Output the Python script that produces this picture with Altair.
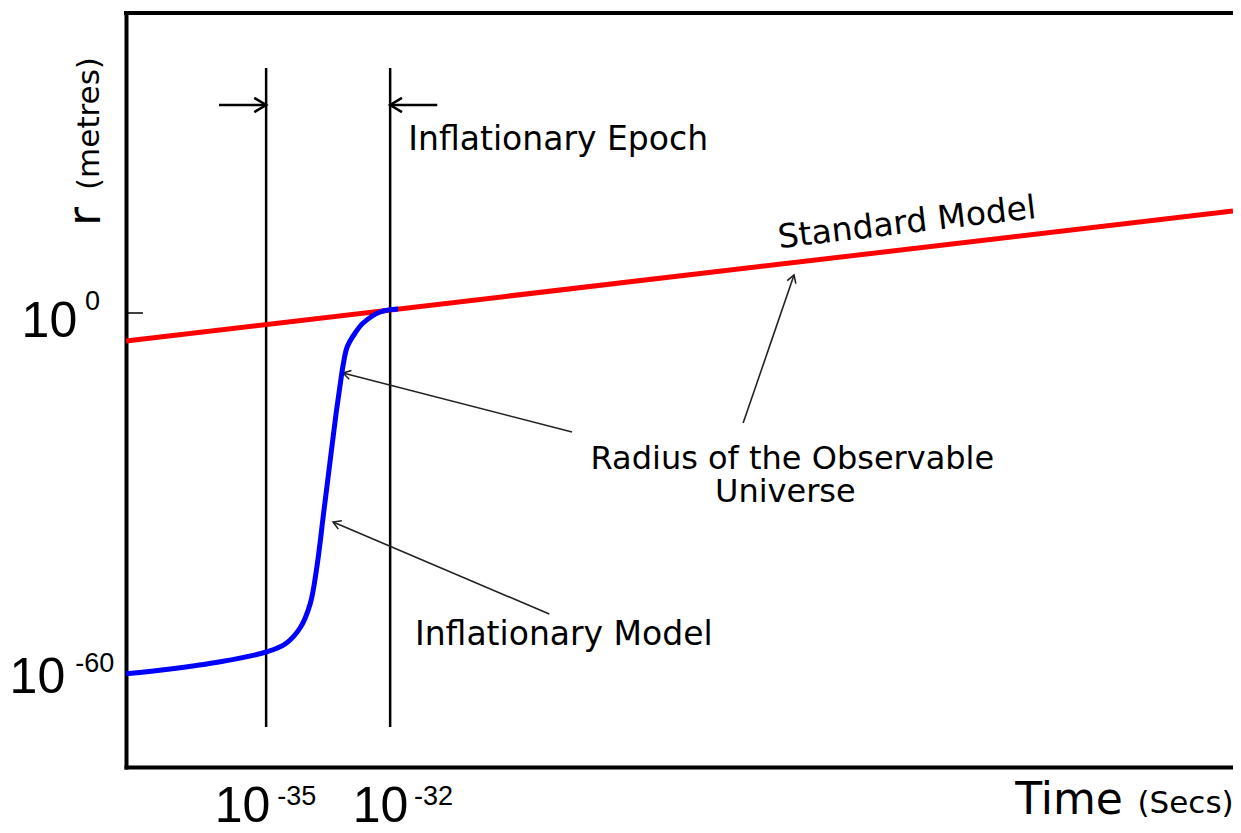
import math
import altair as alt
import pandas as pd

# ---------------- data (log10 units) ----------------
std_logt = [-38.39, -11.61]          # Standard Model line
std_logr = [-4.68, 17.05]

infl_logt = [-38.39, -37.32, -36.11, -35.0, -34.54, -34.18, -33.935, -33.766,
             -33.609, -33.452, -33.306, -33.21, -33.137, -33.04, -32.847, -32.653,
             -32.242, -31.807]
infl_logr = [-60.3, -59.5, -58.3, -56.66, -55.32, -52.65, -48.64, -42.12,
             -33.43, -24.74, -16.71, -12.03, -8.69, -5.68, -3.34, -1.67,
             0.17, 0.67]

epoch_logt = [-35, -32]              # inflationary epoch boundaries
epoch_top, epoch_bottom = 40.95, -69.19
epoch_arrow_r = 34.76
epoch_arrow_tail = [-36.14, -30.86]

y_ticks = [0, -60]
y_tick_end = -37.98

# annotation pointers: tail (t, r) -> head (t, r)
ptr_t1 = [-27.60, -28.15, -23.46]
ptr_r1 = [-19.89, -50.31, -18.39]
ptr_t2 = [-33.14, -33.38, -22.23]
ptr_r2 = [-10.03, -34.93, 6.35]

# text annotations
words = ["Inflationary Epoch", "Standard Model", "Radius of the Observable",
         "Universe", "Inflationary Model", "Time", "(Secs)", "r", "(metres)"]
words_t = [-31.56, -19.47, -22.27, -22.44, -31.40, -16.88, -13.92, -39.02, -39.04]
words_r = [27.24, 13.37, -26.07, -31.59, -55.49, -83.70, -83.55, 14.54, 20.56]
words_align = ["left", "center", "center", "center", "left", "left", "left", "left", "left"]
words_size = [33, 33, 32, 32, 33, 44, 31, 46, 31]
words_angle = [0, 353.3, 0, 0, 0, 0, 0, 270, 270]

# tick labels "10" + exponent
base_t = [-39.57, -39.86, -34.90, -31.56]
base_r = [-4.01, -63.51, -85.07, -85.07]
exp_text = ["0", "-60", "-35", "-32"]
exp_t = [-39.38, -39.62, -34.73, -31.42]
exp_r = [0.50, -60.0, -82.23, -82.23]

# ---------------- layout ----------------
X_DOMAIN = [-38.39, -11.61]
Y_DOMAIN = [-75.88, 50.14]
W, H = 1107, 754
kx = W / (X_DOMAIN[1] - X_DOMAIN[0])
ky = H / (Y_DOMAIN[1] - Y_DOMAIN[0])

xs = alt.Scale(domain=X_DOMAIN, nice=False, zero=False)
ys = alt.Scale(domain=Y_DOMAIN, nice=False, zero=False)
frame_axis = alt.Axis(domain=True, ticks=False, labels=False, grid=False, title=None)
X = lambda f: alt.X(f, type="quantitative", scale=xs, axis=frame_axis)
Y = lambda f: alt.Y(f, type="quantitative", scale=ys, axis=frame_axis)

# the reference shows no right border: mask the right edge of the view
right_mask = alt.Chart(pd.DataFrame({"t": [X_DOMAIN[1]], "r1": [Y_DOMAIN[0] + 0.4],
                                     "r2": [Y_DOMAIN[1] - 0.4]})).mark_rule(
    color="white", strokeWidth=8).encode(x=X("t"), y=Y("r1"), y2="r2:Q")

# top edge of the frame (left and bottom edges are the axis domains)
top_edge = alt.Chart(pd.DataFrame({"t1": [X_DOMAIN[0]], "t2": [X_DOMAIN[1]],
                                   "r": [Y_DOMAIN[1]]})).mark_rule(
    color="black", strokeWidth=4, strokeCap="square").encode(x=X("t1"), x2="t2:Q", y=Y("r"))

std_line = alt.Chart(pd.DataFrame({"t": std_logt, "r": std_logr})).mark_line(
    color="#ff0000", strokeWidth=5).encode(x=X("t"), y=Y("r"))

infl_line = alt.Chart(pd.DataFrame({"t": infl_logt, "r": infl_logr})).mark_line(
    color="#0000ff", strokeWidth=5, interpolate="catmull-rom").encode(
    x=X("t"), y=Y("r"), order="t:Q")

vlines = alt.Chart(pd.DataFrame({"t": epoch_logt, "r1": [epoch_top] * 2, "r2": [epoch_bottom] * 2})
                   ).mark_rule(color="black", strokeWidth=2.5).encode(
    x=X("t"), y=Y("r1"), y2="r2:Q")

shafts = alt.Chart(pd.DataFrame({"t1": epoch_arrow_tail, "t2": epoch_logt,
                                 "r": [epoch_arrow_r] * 2})).mark_rule(
    color="black", strokeWidth=2.5).encode(x=X("t1"), x2="t2:Q", y=Y("r"))

chevron = "M-1,-0.6L0,0L-1,0.6"
heads_top = alt.Chart(pd.DataFrame({"t": epoch_logt, "r": [epoch_arrow_r] * 2,
                                    "ang": [0, 180]})).mark_point(
    shape=chevron, filled=False, stroke="black", strokeWidth=2.5, size=560, opacity=1).encode(
    x=X("t"), y=Y("r"), angle=alt.Angle("ang:Q", scale=None))

ptr_df = pd.DataFrame({"t1": ptr_t1, "r1": ptr_r1, "t2": ptr_t2, "r2": ptr_r2})
ptr_df["ang"] = [
    (math.degrees(math.atan2(-(b2 - b1) * ky, (a2 - a1) * kx)) + 360) % 360
    for a1, b1, a2, b2 in zip(ptr_t1, ptr_r1, ptr_t2, ptr_r2)]
pointers = alt.Chart(ptr_df).mark_rule(color="#222222", strokeWidth=1.6).encode(
    x=X("t1"), y=Y("r1"), x2="t2:Q", y2="r2:Q")
ptr_heads = alt.Chart(ptr_df).mark_point(
    shape=chevron, filled=False, stroke="#222222", strokeWidth=1.6, size=230, opacity=1).encode(
    x=X("t2"), y=Y("r2"), angle=alt.Angle("ang:Q", scale=None))

yticks = alt.Chart(pd.DataFrame({"r": y_ticks, "t1": [X_DOMAIN[0]] * 2, "t2": [y_tick_end] * 2})
                   ).mark_rule(color="black", strokeWidth=1.5).encode(
    x=X("t1"), x2="t2:Q", y=Y("r"))

words_df = pd.DataFrame({"txt": words, "t": words_t, "r": words_r, "align": words_align,
                         "size": words_size, "ang": words_angle})
text_layers = []
for al in ["left", "center"]:
    sub = words_df[words_df["align"] == al]
    text_layers.append(alt.Chart(sub).mark_text(
        align=al, baseline="alphabetic", font="DejaVu Sans", color="black").encode(
        x=X("t"), y=Y("r"), text="txt:N",
        size=alt.Size("size:Q", scale=None),
        angle=alt.Angle("ang:Q", scale=None)))

base_labels = alt.Chart(pd.DataFrame({"t": base_t, "r": base_r, "txt": ["10"] * 4})).mark_text(
    align="right", baseline="alphabetic", font="Liberation Sans", fontSize=50, color="black").encode(
    x=X("t"), y=Y("r"), text="txt:N")
exp_labels = alt.Chart(pd.DataFrame({"t": exp_t, "r": exp_r, "txt": exp_text})).mark_text(
    align="left", baseline="alphabetic", font="Liberation Sans", fontSize=27, color="black").encode(
    x=X("t"), y=Y("r"), text="txt:N")

chart = alt.layer(
    right_mask, top_edge, vlines, shafts, heads_top, pointers, ptr_heads, yticks,
    std_line, infl_line, base_labels, exp_labels, *text_layers
).properties(
    width=W, height=H,
    background="white",
    autosize=alt.AutoSizeParams(type="none"),
    padding={"left": 118, "top": 5, "right": 0, "bottom": 58},
).configure_view(stroke=None, strokeWidth=0).configure_axis(
    domainColor="black", domainWidth=4, domainCap="square"
)

chart.save("out.html", embed_options={"renderer": "svg", "actions": False})
